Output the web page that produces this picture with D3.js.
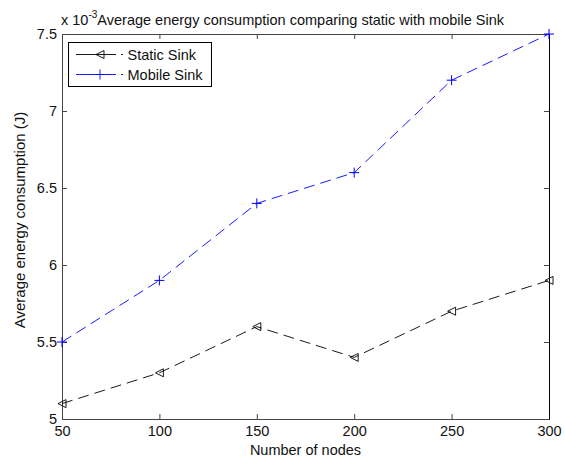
<!DOCTYPE html>
<html><head><meta charset="utf-8">
<script src="https://cdn.jsdelivr.net/npm/d3@7"></script>
<style>body{margin:0;background:#fff}svg{display:block;font-family:"Liberation Sans",Arial,sans-serif}</style>
</head><body>
<script>
const nodes = [50, 100, 150, 200, 250, 300];
const staticSink = [5.1, 5.3, 5.6, 5.4, 5.7, 5.9];
const mobileSink = [5.5, 5.9, 6.4, 6.6, 7.2, 7.5];
const xTicks = [50, 100, 150, 200, 250, 300];
const yTicks = [5, 5.5, 6, 6.5, 7, 7.5];
const seriesNames = ["Static Sink", "Mobile Sink"];

const W = 565, H = 457;
const m = {left: 62, right: 16, top: 34, bottom: 38};
const svg = d3.select("body").append("svg").attr("width", W).attr("height", H);
const x = d3.scaleLinear().domain([50, 300]).range([m.left, W - m.right]);
const y = d3.scaleLinear().domain([5, 7.5]).range([H - m.bottom, m.top]);

const axisCol = "#444";
const FS = "14.5px";
const gx = svg.append("g").attr("transform", `translate(0,${y(5)})`)
  .call(d3.axisBottom(x).tickValues(xTicks).tickFormat(d3.format("d")).tickSize(-5).tickPadding(7));
const gxt = svg.append("g").attr("transform", `translate(0,${y(7.5)})`)
  .call(d3.axisTop(x).tickValues(xTicks).tickFormat("").tickSize(-5));
const gy = svg.append("g").attr("transform", `translate(${x(50)},0)`)
  .call(d3.axisLeft(y).tickValues(yTicks).tickFormat(d => d3.format("~g")(d)).tickSize(-5).tickPadding(5));
const gyr = svg.append("g").attr("transform", `translate(${x(300)},0)`)
  .call(d3.axisRight(y).tickValues(yTicks).tickFormat("").tickSize(-5));
[gx, gxt, gy, gyr].forEach(g => {
  g.select(".domain").attr("stroke", axisCol).attr("stroke-width", 1);
  g.selectAll(".tick line").attr("stroke", axisCol);
  g.selectAll(".tick text").attr("fill", "#111").style("font-size", FS).style("font-family", "'Liberation Sans',Arial,sans-serif");
});
gyr.select(".domain").attr("stroke", "#000");

const line = d3.line().x((d, i) => x(nodes[i])).y(d => y(d));
const dash = "11,6";

function triPath(cx, cy, r) {
  return `M${cx - r},${cy} L${cx + r},${cy - r} L${cx + r},${cy + r} Z`;
}
function plusPath(cx, cy, r) {
  return `M${cx - r},${cy} H${cx + r} M${cx},${cy - r} V${cy + r}`;
}

svg.append("path").datum(staticSink).attr("d", line).attr("fill", "none")
  .attr("stroke", "#000").attr("stroke-width", 0.9).attr("stroke-dasharray", dash);
svg.append("g").selectAll("path").data(staticSink).join("path")
  .attr("d", (d, i) => triPath(x(nodes[i]), y(d), 4)).attr("fill", "none").attr("stroke", "#000").attr("stroke-width", 0.9);
svg.append("path").datum(mobileSink).attr("d", line).attr("fill", "none")
  .attr("stroke", "#0000ff").attr("stroke-width", 0.9).attr("stroke-dasharray", dash);
svg.append("g").selectAll("path").data(mobileSink).join("path")
  .attr("d", (d, i) => plusPath(x(nodes[i]), y(d), 5)).attr("fill", "none").attr("stroke", "#0000ff").attr("stroke-width", 1);

const lg = svg.append("g");
lg.append("rect").attr("x", 68.5).attr("y", 42.5).attr("width", 143).attr("height", 44)
  .attr("fill", "#fff").attr("stroke", "#000").attr("stroke-width", 1);
const legendRows = [
  {name: seriesNames[0], color: "#000", mk: triPath, yy: 54.5},
  {name: seriesNames[1], color: "#0000ff", mk: plusPath, yy: 74.5}
];
legendRows.forEach(r => {
  lg.append("path").attr("d", `M76,${r.yy} H116`).attr("stroke", r.color).attr("stroke-width", 0.9).attr("fill", "none");
  lg.append("path").attr("d", `M121,${r.yy} H123`).attr("stroke", r.color).attr("stroke-width", 0.9);
  lg.append("path").attr("d", r.mk(100, r.yy, r.mk === triPath ? 4 : 5)).attr("stroke", r.color).attr("stroke-width", 0.9).attr("fill", "none");
  lg.append("text").attr("x", 127.5).attr("y", r.yy + 5.5).text(r.name).style("font-size", FS).attr("fill", "#111");
});

const t = svg.append("text").attr("x", 61).attr("y", 25).style("font-size", FS).attr("fill", "#111");
t.append("tspan").text("x 10");
t.append("tspan").attr("dy", -7).style("font-size", "10px").text("-3");
t.append("tspan").attr("dy", 7).text("Average energy consumption comparing static with mobile Sink");

svg.append("text").attr("x", (x(50) + x(300)) / 2).attr("y", 455).attr("text-anchor", "middle")
  .style("font-size", FS).attr("fill", "#111").text("Number of nodes");
svg.append("text").attr("transform", `translate(25,220) rotate(-90)`)
  .attr("text-anchor", "middle").style("font-size", "15px").attr("fill", "#111").text("Average energy consumption (J)");
</script>
</body></html>
